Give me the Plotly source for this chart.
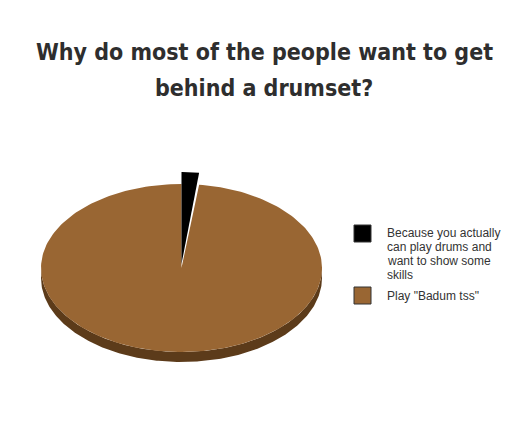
import numpy as np
import plotly.graph_objects as go

# ---- data ----
labels = ["Because you actually can play drums and want to show some skills", 'Play "Badum tss"']
legend_lines = [["Because you actually", "can play drums and", "want to show some", "skills"], ['Play "Badum tss"']]
values = [2, 98]
colors = ["#000000", "#996633"]
side_color = "#5c3b1a"
title_lines = ["Why do most of the people want to get", "behind a drumset?"]

# ---- geometry (pixel-like data space) ----
W, H = 528, 445
cx, cy, rx, ry, depth = 181.5, 268, 140.5, 84, 10
explode = [(-4, 92 / 84), (0, 1.0)]  # (vertical lift, radius scale) per slice

fig = go.Figure()

def arc(t0, t1, sx=1.0, sy=1.0, dy=0.0, n=240):
    t = np.radians(np.linspace(t0, t1, n))
    return cx + rx * sx * np.sin(t), cy + dy - ry * sy * np.cos(t)

# side (front) of the pie
xs1, ys1 = arc(90, 270)
xs2, ys2 = arc(270, 90, dy=depth)
fig.add_trace(go.Scatter(x=np.r_[xs1, xs2], y=np.r_[ys1, ys2], fill="toself", mode="lines",
                         line=dict(width=0, color=side_color), fillcolor=side_color,
                         showlegend=False, hoverinfo="skip"))

total = sum(values)
angles = np.cumsum([0] + [v / total * 360 for v in values])
for i in [1, 0]:
    lift, sc = explode[i]
    ax, ay = arc(angles[i], angles[i + 1], sx=1.0, sy=sc, dy=lift)
    x = np.r_[cx, ax, cx]
    y = np.r_[cy + lift, ay, cy + lift]
    fig.add_trace(go.Scatter(x=x, y=y, fill="toself", mode="lines",
                             line=dict(width=0, color=colors[i]), fillcolor=colors[i],
                             name=labels[i], showlegend=False, hoverinfo="skip"))

# ---- legend (manual) ----
sw_y = [225, 287]
text_y0 = [233, 296]
for i in range(2):
    fig.add_shape(type="rect", x0=354, x1=371, y0=sw_y[i], y1=sw_y[i] + 17,
                  fillcolor=colors[i], line=dict(color="#333333", width=1), layer="above")
    for j, line in enumerate(legend_lines[i]):
        yy = text_y0[i] + j * 14
        fig.add_annotation(x=386, y=yy, text=line, xanchor="left", yanchor="middle",
                           showarrow=False, borderpad=0,
                           font=dict(family="Liberation Sans, Arial", size=12, color="#333333"))

# ---- title ----
title_y = [52, 88]
for k, t in enumerate(title_lines):
    fig.add_annotation(x=W / 2, y=title_y[k], text=t, xanchor="center", yanchor="middle",
                       showarrow=False,
                       font=dict(family="DejaVu Sans Condensed", size=23,
                                 color="#2e2e2e", weight="bold"))

fig.update_layout(width=W, height=H, margin=dict(l=0, r=0, t=0, b=0),
                  paper_bgcolor="white", plot_bgcolor="white",
                  xaxis=dict(range=[0, W], visible=False, fixedrange=True),
                  yaxis=dict(range=[H, 0], visible=False, fixedrange=True))
fig.write_html("out.html")
